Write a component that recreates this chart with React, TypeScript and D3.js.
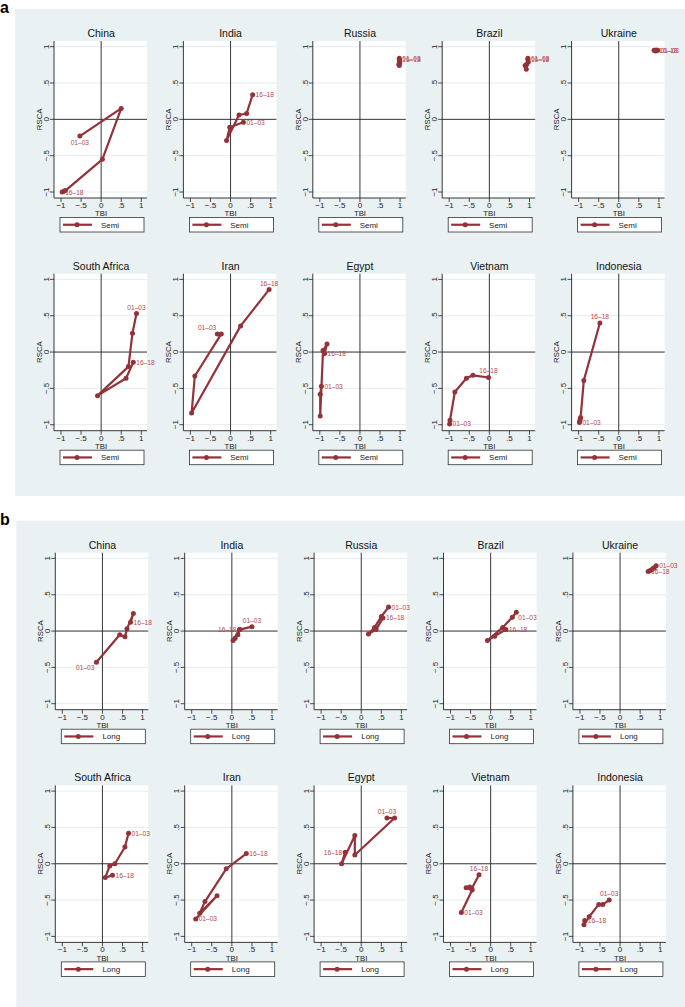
import React from "react";
import * as d3 from "d3";

// countries in facet order (row by row)
const countries = ["China", "India", "Russia", "Brazil", "Ukraine", "South Africa", "Iran", "Egypt", "Vietnam", "Indonesia"];
const periods = ["01–03", "04–06", "07–09", "10–12", "13–15", "16–18"];
const ticks = [-1, -0.5, 0, 0.5, 1];
const tickLabels = ["−1", "−.5", "0", ".5", "1"];

// panel a: semi-finished
const semiTBI = [
  [-0.53, 0.5, 0.03, -0.89, -0.93, -0.97],
  [0.32, -0.02, -0.1, 0.21, 0.4, 0.55],
  [0.98, 0.99, 0.97, 0.98, 0.99, 0.98],
  [0.96, 0.97, 0.93, 0.89, 0.92, 0.96],
  [0.97, 0.95, 0.92, 0.9, 0.88, 0.93],
  [0.88, 0.78, 0.68, -0.09, 0.62, 0.8],
  [-0.33, -0.23, -0.89, -0.97, 0.25, 0.96],
  [-0.96, -0.99, -0.99, -0.92, -0.82, -0.88],
  [-0.99, -0.98, -0.86, -0.57, -0.41, -0.02],
  [-0.98, -0.97, -0.96, -0.95, -0.87, -0.47],
];
const semiRSCA = [
  [-0.23, 0.15, -0.55, -0.98, -0.99, -1.0],
  [-0.04, -0.11, -0.29, 0.06, 0.08, 0.34],
  [0.84, 0.8, 0.76, 0.74, 0.78, 0.82],
  [0.84, 0.79, 0.76, 0.74, 0.69, 0.82],
  [0.95, 0.95, 0.94, 0.95, 0.95, 0.95],
  [0.53, 0.26, -0.2, -0.6, -0.36, -0.14],
  [0.25, 0.25, -0.33, -0.84, 0.36, 0.86],
  [-0.47, -0.58, -0.88, 0.02, 0.11, -0.02],
  [-0.99, -0.94, -0.55, -0.36, -0.32, -0.35],
  [-0.97, -0.95, -0.92, -0.9, -0.39, 0.4],
];

// panel b: long
const longTBI = [
  [-0.15, 0.43, 0.56, 0.61, 0.77, 0.7],
  [0.5, 0.2, 0.15, 0.08, 0.03, 0.19],
  [0.68, 0.5, 0.33, 0.18, 0.37, 0.54],
  [0.64, 0.54, 0.3, -0.08, 0.1, 0.38],
  [0.9, 0.85, 0.82, 0.78, 0.74, 0.7],
  [0.65, 0.56, 0.31, 0.18, 0.07, 0.25],
  [-0.9, -0.37, -0.8, -0.67, -0.14, 0.36],
  [0.64, 0.83, -0.16, -0.16, -0.49, -0.4],
  [-0.73, -0.46, -0.61, -0.52, -0.47, -0.29],
  [-0.27, -0.43, -0.53, -0.77, -0.9, -0.88],
];
const longRSCA = [
  [-0.43, -0.05, -0.08, 0.03, 0.24, 0.12],
  [0.06, 0.02, -0.05, -0.1, -0.13, 0.02],
  [0.33, 0.2, 0.05, -0.04, 0.02, 0.18],
  [0.26, 0.19, 0.05, -0.13, -0.07, 0.02],
  [0.9, 0.87, 0.86, 0.84, 0.83, 0.82],
  [0.42, 0.23, 0.0, -0.03, -0.19, -0.16],
  [-0.76, -0.44, -0.68, -0.52, -0.07, 0.14],
  [0.63, 0.63, 0.12, 0.39, 0.0, 0.16],
  [-0.67, -0.36, -0.33, -0.32, -0.34, -0.15],
  [-0.5, -0.56, -0.56, -0.73, -0.84, -0.78],
];

// marker label clock positions for first / last period
const semiLabelPos = [[6, 3], [3, 3], [3, 3], [3, 3], [3, 3], [12, 3], [11, 12], [3, 3], [3, 12], [3, 12]];
const longLabelPos = [[7, 3], [12, 9], [3, 3], [4, 3], [3, 3], [3, 3], [3, 3], [12, 9], [3, 12], [12, 3]];

const RED = "#94323a";
const LABEL_RED = "#b5474e";
const FONT = "'Liberation Sans', Arial, sans-serif";
const PW = 93;
const PH = 157;
const COL = 129.4;
const ROW = 232.7;

const x = d3.scaleLinear().domain([-1, 1]).range([7, 87.3]);
const y = d3.scaleLinear().domain([-1, 1]).range([151, 5.7]);

function labelProps(pos: number, px: number, py: number) {
  switch (pos) {
    case 12: return { x: px, y: py - 4, anchor: "middle" };
    case 6: return { x: px, y: py + 9, anchor: "middle" };
    case 9: return { x: px - 3, y: py + 2.5, anchor: "end" };
    case 11: return { x: px - 1, y: py - 4, anchor: "end" };
    case 7: return { x: px - 2, y: py + 8, anchor: "end" };
    case 4: return { x: px + 2, y: py + 8, anchor: "start" };
    default: return { x: px + 3, y: py + 2.5, anchor: "start" };
  }
}

const SmallPlot = ({ left, top, title, tbi, rsca, pos, legend }: any) => {
  const line = d3.line<number>().x((d) => x(d)).y((_, i) => y(rsca[i]));
  const last = tbi.length - 1;
  return (
    <g transform={`translate(${left},${top})`}>
      <rect x={0} y={0} width={PW} height={PH} fill="#fff" />
      {ticks.map((t) => (
        <line key={t} x1={0} x2={PW} y1={y(t)} y2={y(t)} stroke="#e4edf0" strokeWidth={1} />
      ))}
      <line x1={x(0)} x2={x(0)} y1={0} y2={PH} stroke="#222" strokeWidth={0.9} />
      <line x1={0} x2={PW} y1={y(0)} y2={y(0)} stroke="#222" strokeWidth={0.9} />
      <line x1={0} x2={0} y1={0} y2={PH} stroke="#222" strokeWidth={0.9} />
      <line x1={0} x2={PW} y1={PH} y2={PH} stroke="#222" strokeWidth={0.9} />
      {ticks.map((t, i) => (
        <g key={"y" + t}>
          <line x1={-4} x2={0} y1={y(t)} y2={y(t)} stroke="#222" strokeWidth={0.8} />
          <text transform={`translate(-5.3,${y(t)}) rotate(-90)`} textAnchor="middle" fontSize={8} fill="#222">
            {tickLabels[i]}
          </text>
        </g>
      ))}
      {ticks.map((t, i) => (
        <g key={"x" + t}>
          <line x1={x(t)} x2={x(t)} y1={PH} y2={PH + 4} stroke="#222" strokeWidth={0.8} />
          <text x={x(t)} y={PH + 10} textAnchor="middle" fontSize={8} fill="#222">
            {tickLabels[i]}
          </text>
        </g>
      ))}
      <text transform={`translate(-12.3,${y(0)}) rotate(-90)`} textAnchor="middle" fontSize={7.8} fill="#222">RSCA</text>
      <g transform="translate(6,176.5)">
        <rect x={0} y={0} width={84} height={14.5} fill="#fff" stroke="#333" strokeWidth={0.8} />
        <line x1={3} x2={32} y1={7.25} y2={7.25} stroke={RED} strokeWidth={2.2} />
        <circle cx={17} cy={7.25} r={2.5} fill={RED} />
        <text x={50} y={10.2} textAnchor="middle" fontSize={8} fill="#222">{legend}</text>
      </g>
      <text x={x(0)} y={PH + 18.4} textAnchor="middle" fontSize={7.8} fill="#222">TBI</text>
      <text x={x(0)} y={-4} textAnchor="middle" fontSize={10.5} fill="#111">{title}</text>
      <path d={line(tbi) || ""} fill="none" stroke={RED} strokeWidth={2.2} strokeLinejoin="round" />
      {tbi.map((d: number, i: number) => (
        <circle key={i} cx={x(d)} cy={y(rsca[i])} r={2.5} fill={RED} />
      ))}
      {[0, last].map((i, k) => {
        const lp = labelProps(pos[k], x(tbi[i]), y(rsca[i]));
        return (
          <text key={"l" + i} x={lp.x} y={lp.y} textAnchor={lp.anchor as any} fontSize={6.6} fill={LABEL_RED}>
            {periods[i]}
          </text>
        );
      })}
    </g>
  );
};

const panels = [
  { letter: "a", top: 0, dx: 0, tbi: semiTBI, rsca: semiRSCA, pos: semiLabelPos, legend: "Semi" },
  { letter: "b", top: 511.7, dx: 1.3, tbi: longTBI, rsca: longRSCA, pos: longLabelPos, legend: "Long" },
];

export default function App() {
  return (
    <svg
      width={685}
      height={1007}
      style={{ position: "absolute", left: 0, top: 0, fontFamily: FONT }}
    >
      <rect x={0} y={0} width={685} height={1007} fill="#fff" />
      {panels.map((p) => (
        <g key={p.letter}>
          <rect x={15 + p.dx} y={9 + p.top} width={670 - p.dx} height={487} fill="#e9f1f3" />
          <text x={0} y={13 + p.top} fontSize={16} fontWeight="bold" fill="#000">{p.letter}</text>
          {countries.map((c, i) => (
            <SmallPlot
              key={c}
              left={54 + (i % 5) * COL + p.dx}
              top={41 + Math.floor(i / 5) * ROW + p.top}
              title={c}
              tbi={p.tbi[i]}
              rsca={p.rsca[i]}
              pos={p.pos[i]}
              legend={p.legend}
            />
          ))}
        </g>
      ))}
    </svg>
  );
}
